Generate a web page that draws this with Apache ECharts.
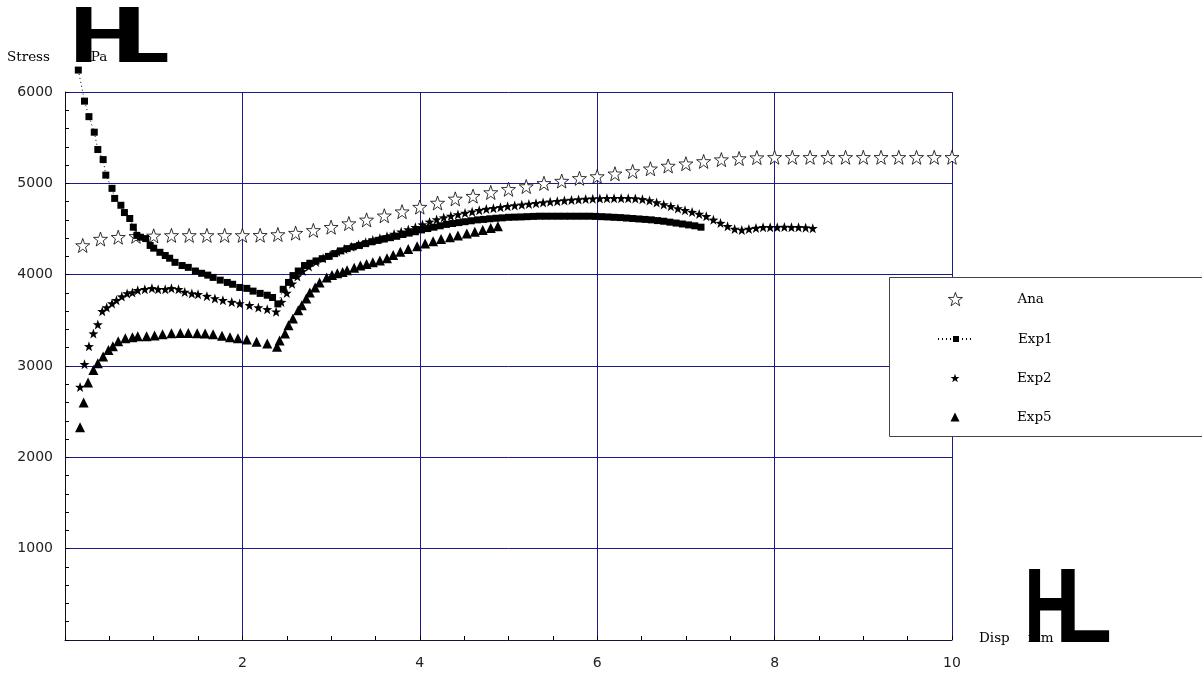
<!DOCTYPE html>
<html><head><meta charset="utf-8">
<script src="https://cdn.jsdelivr.net/npm/echarts@6/dist/echarts.min.js"></script>
<style>html,body{margin:0;padding:0;background:#fff}#c{width:1202px;height:675px}</style>
</head><body><div id="c"></div>
<script>
const seriesNames = ['Ana', 'Exp1', 'Exp2', 'Exp5'];
const xTickLabels = ['2', '4', '6', '8', '10'];
const yTickLabels = ['1000', '2000', '3000', '4000', '5000', '6000'];

const anaData = [
  [0.2,4320],[0.4,4390],[0.6,4410],[0.8,4420],[1.0,4425],[1.2,4430],[1.4,4430],[1.6,4430],[1.8,4430],[2.0,4430],
  [2.2,4432],[2.4,4440],[2.6,4455],[2.8,4485],[3.0,4520],[3.2,4560],[3.4,4600],[3.6,4645],[3.8,4690],[4.0,4740],
  [4.2,4785],[4.4,4830],[4.6,4860],[4.8,4900],[5.0,4935],[5.2,4965],[5.4,5000],[5.6,5025],[5.8,5055],[6.0,5075],
  [6.2,5105],[6.4,5130],[6.6,5160],[6.8,5190],[7.0,5215],[7.2,5240],[7.4,5260],[7.6,5272],[7.8,5282],[8.0,5285],
  [8.2,5285],[8.4,5285],[8.6,5285],[8.8,5285],[9.0,5285],[9.2,5285],[9.4,5285],[9.6,5285],[9.8,5285],[10.0,5285]
];

const exp1Data = [
  [0.15,6240],[0.22,5900],[0.27,5730],[0.33,5560],[0.37,5370],[0.43,5260],[0.46,5090],[0.53,4945],[0.56,4835],[0.63,4760],
  [0.67,4680],[0.73,4615],[0.77,4520],[0.81,4430],[0.85,4410],[0.91,4395],[0.96,4320],[1.00,4290],[1.07,4245],[1.13,4210],
  [1.18,4180],[1.24,4135],[1.32,4100],[1.39,4080],[1.47,4040],[1.54,4015],[1.61,3995],[1.67,3970],[1.75,3940],[1.83,3915],
  [1.89,3895],[1.97,3860],[2.05,3850],[2.12,3820],[2.20,3795],[2.28,3775],[2.34,3750],[2.40,3680],[2.46,3840],[2.52,3915],
  [2.57,3990],[2.63,4040],[2.70,4100],[2.76,4125],[2.83,4150],[2.90,4175],[2.97,4200],[3.04,4230],[3.11,4260],[3.18,4285],
  [3.25,4305],[3.32,4320],[3.39,4340],[3.46,4360],[3.53,4375],[3.60,4390],[3.67,4405],[3.74,4420],[3.81,4440],[3.88,4455],
  [3.95,4470],[4.02,4490],[4.09,4505],[4.16,4520],[4.23,4535],[4.30,4550],[4.37,4560],[4.44,4570],[4.51,4580],[4.58,4590],
  [4.65,4600],[4.72,4605],[4.79,4612],[4.86,4618],[4.93,4622],[5.00,4628],[5.07,4630],[5.14,4632],[5.21,4635],[5.28,4638],
  [5.35,4640],[5.42,4640],[5.49,4640],[5.56,4640],[5.63,4640],[5.70,4640],[5.77,4640],[5.84,4640],[5.91,4640],[5.98,4638],
  [6.05,4635],[6.12,4632],[6.19,4628],[6.26,4625],[6.33,4620],[6.40,4615],[6.47,4610],[6.54,4605],[6.61,4600],[6.68,4592],
  [6.75,4585],[6.82,4575],[6.89,4565],[6.96,4555],[7.03,4545],[7.10,4535],[7.17,4520]
];

const exp2Data = [
  [0.17,2770],[0.22,3020],[0.27,3215],[0.32,3355],[0.37,3455],[0.42,3600],[0.47,3640],[0.53,3685],[0.58,3720],[0.64,3760],
  [0.70,3795],[0.76,3805],[0.82,3830],[0.90,3840],[0.98,3850],[1.05,3840],[1.13,3840],[1.20,3850],[1.28,3840],[1.35,3810],
  [1.43,3795],[1.50,3785],[1.60,3765],[1.69,3740],[1.78,3720],[1.88,3700],[1.97,3685],[2.08,3665],[2.18,3640],[2.28,3620],
  [2.38,3595],[2.44,3700],[2.50,3800],[2.56,3900],[2.62,3980],[2.68,4040],[2.75,4090],[2.83,4140],[2.91,4180],[2.99,4215],
  [3.07,4250],[3.15,4280],[3.23,4305],[3.31,4330],[3.39,4355],[3.47,4380],[3.55,4400],[3.63,4420],[3.71,4445],[3.79,4470],
  [3.87,4495],[3.95,4520],[4.03,4548],[4.11,4578],[4.19,4605],[4.27,4625],[4.35,4642],[4.43,4660],[4.51,4675],[4.59,4690],
  [4.67,4705],[4.75,4718],[4.83,4728],[4.91,4738],[4.99,4748],[5.07,4758],[5.15,4766],[5.23,4774],[5.31,4782],[5.39,4790],
  [5.47,4798],[5.55,4805],[5.63,4812],[5.71,4818],[5.79,4823],[5.87,4828],[5.95,4832],[6.03,4835],[6.11,4836],[6.19,4837],
  [6.27,4837],[6.35,4836],[6.43,4833],[6.51,4825],[6.59,4812],[6.67,4790],[6.75,4768],[6.83,4748],[6.91,4725],[6.99,4705],
  [7.07,4685],[7.15,4665],[7.23,4640],[7.31,4600],[7.39,4565],[7.47,4530],[7.55,4500],[7.63,4490],[7.71,4500],[7.79,4510],
  [7.87,4518],[7.95,4520],[8.03,4520],[8.11,4522],[8.19,4520],[8.27,4520],[8.35,4515],[8.43,4508]
];

const exp5Data = [
  [0.17,2330],[0.21,2600],[0.26,2820],[0.32,2955],[0.37,3030],[0.43,3105],[0.49,3175],[0.54,3215],[0.60,3270],[0.68,3305],
  [0.76,3315],[0.82,3325],[0.92,3325],[1.01,3335],[1.10,3348],[1.20,3358],[1.30,3360],[1.39,3360],[1.49,3358],[1.58,3355],
  [1.67,3348],[1.77,3330],[1.86,3315],[1.95,3305],[2.05,3290],[2.16,3265],[2.28,3245],[2.39,3210],[2.42,3280],[2.48,3355],
  [2.52,3445],[2.57,3520],[2.63,3610],[2.67,3665],[2.72,3740],[2.76,3805],[2.82,3860],[2.87,3915],[2.95,3970],[3.01,3995],
  [3.07,4015],[3.13,4030],[3.18,4048],[3.26,4075],[3.33,4100],[3.40,4118],[3.47,4135],[3.55,4155],[3.63,4180],[3.70,4215],
  [3.78,4250],[3.87,4280],[3.97,4310],[4.06,4340],[4.15,4365],[4.24,4390],[4.34,4410],[4.43,4430],[4.53,4450],[4.62,4470],
  [4.71,4490],[4.80,4510],[4.88,4530]
];

const starPath = 'path://M0,-10 L2.351,-3.236 L9.511,-3.09 L3.804,1.236 L5.878,8.09 L0,4 L-5.878,8.09 L-3.804,1.236 L-9.511,-3.09 L-2.351,-3.236 Z';
const gridColor = '#1a1a8a';
const textFont = '"DejaVu Serif", serif';
const sansFont = '"DejaVu Sans", sans-serif';

function legendFor(name, left, top, w, h, pad, itemStyle) {
  const leg = {
    orient: 'vertical', left: left, top: top, padding: 0,
    itemWidth: w, itemHeight: h, selectedMode: false, z: 110,
    backgroundColor: 'transparent', borderWidth: 0,
    textStyle: {fontFamily: textFont, fontSize: 13.5, color: '#000', padding: [0, 0, 0, pad]},
    data: [name]
  };
  if (itemStyle) leg.itemStyle = itemStyle;
  return leg;
}

const chart = echarts.init(document.getElementById('c'), null, {renderer: 'canvas'});
chart.setOption({
  animation: false,
  backgroundColor: '#fff',
  grid: {left: 65, right: 250, top: 92, bottom: 35},
  xAxis: {
    type: 'value', min: 0, max: 10, interval: 2,
    axisLine: {show: true, lineStyle: {color: '#14143c', width: 1}},
    axisTick: {show: true, inside: true, length: 4, lineStyle: {color: '#000'}},
    minorTick: {show: true, splitNumber: 4, length: 4, lineStyle: {color: '#000'}},
    splitLine: {show: true, lineStyle: {color: gridColor, width: 1}},
    axisLabel: {
      margin: 16, color: '#222', fontFamily: sansFont, fontSize: 14,
      formatter: function (v) { const i = Math.round(v / 2) - 1; return i >= 0 ? xTickLabels[i] : ''; }
    }
  },
  yAxis: {
    type: 'value', min: 0, max: 6000, interval: 1000,
    axisLine: {show: true, lineStyle: {color: '#111', width: 1}},
    axisTick: {show: true, inside: true, length: 4, lineStyle: {color: '#000'}},
    minorTick: {show: true, splitNumber: 5, length: 4, lineStyle: {color: '#000'}},
    splitLine: {show: true, lineStyle: {color: gridColor, width: 1}},
    axisLabel: {
      margin: 12, color: '#222', fontFamily: sansFont, fontSize: 14,
      formatter: function (v) { const i = Math.round(v / 1000) - 1; return i >= 0 ? yTickLabels[i] : ''; }
    }
  },
  legend: [
    legendFor(seriesNames[0], 948, 292, 14, 14, 50, {color: '#fff', borderColor: '#000', borderWidth: 0.8}),
    legendFor(seriesNames[1], 937, 332, 36, 7.5, 39),
    legendFor(seriesNames[2], 950.5, 371, 9, 9, 52.5),
    legendFor(seriesNames[3], 950.5, 410, 9, 9, 52.5)
  ],
  series: [
    {name: seriesNames[0], type: 'scatter', data: anaData, symbol: starPath, symbolSize: 14,
     itemStyle: {color: '#fff', borderColor: '#000', borderWidth: 0.8, opacity: 1}, z: 2},
    {name: seriesNames[1], type: 'line', data: exp1Data, symbol: 'rect', symbolSize: 7, showAllSymbol: true, clip: false,
     lineStyle: {color: '#000', width: 1, type: [1, 3]}, itemStyle: {color: '#000', opacity: 1}, z: 3},
    {name: seriesNames[2], type: 'scatter', data: exp2Data, symbol: starPath, symbolSize: 10,
     itemStyle: {color: '#000', opacity: 1}, z: 4},
    {name: seriesNames[3], type: 'scatter', data: exp5Data, symbol: 'triangle', symbolSize: 10,
     itemStyle: {color: '#000', opacity: 1}, z: 5}
  ],
  graphic: [
    {type: 'rect', z: 100, shape: {x: 889.5, y: 277.5, width: 400, height: 159},
     style: {fill: '#fff', stroke: '#444', lineWidth: 1}},
    {type: 'text', x: 7, y: 57, style: {text: 'Stress', font: '13.5px ' + textFont, fill: '#000', verticalAlign: 'middle', align: 'left'}},
    {type: 'text', x: 69, y: 40, scaleX: 1.33, style: {text: 'H', font: 'bold 80px "Liberation Sans"', fill: '#000', verticalAlign: 'middle', align: 'left'}},
    {type: 'text', x: 113, y: 40, scaleX: 1.17, style: {text: 'L', font: 'bold 80px "Liberation Sans"', fill: '#000', verticalAlign: 'middle', align: 'left'}},
    {type: 'text', x: 77, y: 57, style: {text: 'MPa', font: '13.5px ' + textFont, fill: '#000', verticalAlign: 'middle', align: 'left'}},
    {type: 'text', x: 979, y: 638, style: {text: 'Disp', font: '13.5px ' + textFont, fill: '#000', verticalAlign: 'middle', align: 'left'}},
    {type: 'text', x: 1024, y: 613, scaleX: 0.72, style: {text: 'H', font: 'bold 106px "Liberation Sans"', fill: '#000', verticalAlign: 'middle', align: 'left'}},
    {type: 'text', x: 1055, y: 613, scaleX: 0.88, style: {text: 'L', font: 'bold 106px "Liberation Sans"', fill: '#000', verticalAlign: 'middle', align: 'left'}},
    {type: 'text', x: 1028, y: 638, style: {text: 'mm', font: '13.5px ' + textFont, fill: '#000', verticalAlign: 'middle', align: 'left'}}
  ]
});
</script></body></html>
